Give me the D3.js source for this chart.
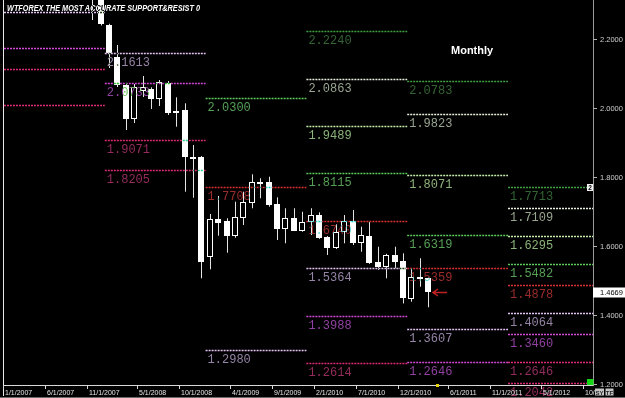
<!DOCTYPE html>
<html>
<head>
<meta charset="utf-8">
<script src="https://cdn.jsdelivr.net/npm/d3@7"></script>
<style>
  html, body { margin: 0; padding: 0; background: #000; }
  svg { display: block; }
  .blend { mix-blend-mode: difference; }
</style>
</head>
<body>
<svg id="chart" width="625" height="398"></svg>
<script>
// monthly candles
const candleMonths = [
  "2007-11", "2007-12",
  "2008-01", "2008-02", "2008-03", "2008-04", "2008-05", "2008-06",
  "2008-07", "2008-08", "2008-09", "2008-10", "2008-11", "2008-12",
  "2009-01", "2009-02", "2009-03", "2009-04", "2009-05", "2009-06",
  "2009-07", "2009-08", "2009-09", "2009-10", "2009-11", "2009-12",
  "2010-01", "2010-02", "2010-03", "2010-04", "2010-05", "2010-06",
  "2010-07", "2010-08", "2010-09", "2010-10", "2010-11", "2010-12",
  "2011-01", "2011-02", "2011-03"
];
const opens = [
  2.390, 2.330, 2.2415, 2.1487, 2.0675, 1.968, 2.051, 2.055, 2.0269, 2.0742,
  1.9854, 1.995, 1.8578, 1.8578, 1.5678, 1.678, 1.673, 1.6304, 1.6809, 1.7244,
  1.7853, 1.7853, 1.7215, 1.6498, 1.6826, 1.6449, 1.6693, 1.6905, 1.6275, 1.594,
  1.6403, 1.672, 1.6084, 1.6304, 1.555, 1.5405, 1.5744, 1.558, 1.4468, 1.5098,
  1.5069
];
const highs = [
  2.410, 2.345, 2.245, 2.1835, 2.073, 2.0704, 2.0936, 2.0608, 2.082, 2.079,
  2.0318, 2.0144, 1.8935, 1.8616, 1.6934, 1.7456, 1.6809, 1.729, 1.758, 1.8085,
  1.7969, 1.8015, 1.7418, 1.710, 1.710, 1.700, 1.710, 1.6983, 1.6295, 1.6635,
  1.6905, 1.705, 1.6565, 1.671, 1.5985, 1.578, 1.5985, 1.5794, 1.5359, 1.565,
  1.509
];
const lows = [
  2.256, 2.240, 2.1168, 2.0617, 1.937, 1.9573, 2.0327, 1.998, 2.0066, 1.9805,
  1.9465, 1.758, 1.7406, 1.5069, 1.533, 1.6304, 1.5811, 1.6246, 1.6614, 1.710,
  1.739, 1.7145, 1.618, 1.6084, 1.644, 1.642, 1.6324, 1.621, 1.5745, 1.592,
  1.6084, 1.6035, 1.584, 1.5484, 1.531, 1.5069, 1.536, 1.434, 1.439, 1.4825,
  1.4228
];
const closes = [
  2.330, 2.2435, 2.1603, 2.0675, 1.968, 2.0608, 2.0608, 2.0269, 2.077, 1.9854,
  1.993, 1.8595, 1.8537, 1.5533, 1.678, 1.668, 1.6304, 1.6838, 1.7273, 1.7853,
  1.7795, 1.7195, 1.6498, 1.6809, 1.6449, 1.671, 1.6905, 1.6229, 1.594, 1.642,
  1.672, 1.6084, 1.6324, 1.5504, 1.5405, 1.5744, 1.555, 1.4489, 1.5098, 1.5049,
  1.4669
];

// yearly support / resistance levels, one slot per level type
const levelTypes = ["R4", "R3", "R2", "R1", "P", "S1", "S2", "S3", "S4"];
const levelYears = [2007, 2008, 2009, 2010, 2011, 2012];
const levels2007 = [null, null, null, null, null, 2.2790, 2.1748, 2.1139, 2.0095];
const levels2008 = [null, null, null, null, 2.3400, 2.1613, 2.0733, 1.9071, 1.8205];
const levels2009 = [null, null, null, 2.0300, 1.7708, 1.2980, null, null, null];
const levels2010 = [2.2240, 2.0863, 1.9489, 1.8115, 1.6740, 1.5364, 1.3988, 1.2614, null];
const levels2011 = [2.0783, 1.9823, 1.8071, 1.6319, 1.5359, 1.3607, 1.2646, null, null];
const levels2012 = [1.7713, 1.7109, 1.6295, 1.5482, 1.4878, 1.4064, 1.3460, 1.2646, 1.2042];

const yTicks = [2.2, 2.0, 1.8, 1.6, 1.4, 1.2];
const tickLabels = [
  "1/1/2007", "6/1/2007", "11/1/2007", "5/1/2008", "10/1/2008", "4/1/2009", "9/1/2009",
  "2/1/2010", "7/1/2010", "12/1/2010", "6/1/2011", "11/1/2011", "5/1/2012", "10/1/2012"
];
const lastPrice = 1.4669;

const lineColor = {
  R4: "#3fa03f", R3: "#e6f0dc", R2: "#c4eeaa", R1: "#5ccc5c", P: "#d83030",
  S1: "#e4c2f4", S2: "#d448d8", S3: "#dc2a74", S4: "#dc2a74"
};
const textColor = {
  R4: "#346434", R3: "#98a690", R2: "#8cb47a", R1: "#56a056", P: "#9a2c2c",
  S1: "#9684a6", S2: "#9040a0", S3: "#942c5c", S4: "#942c5c"
};

const svg = d3.select("#chart");
const fmtMonth = d3.timeFormat("%Y-%m");
const parseTick = d3.timeParse("%m/%d/%Y");

const allMonths = d3.timeMonth.range(new Date(2007, 0, 1), new Date(2012, 10, 1)).map(fmtMonth);

const x = d3.scaleBand().domain(allMonths).range([4, 592]).padding(0);
const y = d3.scaleLinear().domain([1.1975, 2.314]).range([385, 0]);
const bw = x.bandwidth();

svg.append("rect").attr("width", 625).attr("height", 398).attr("fill", "#000");

const defs = svg.append("defs");
defs.append("clipPath").attr("id", "plot")
  .append("rect").attr("x", 3).attr("y", 0).attr("width", 590).attr("height", 385);
defs.append("clipPath").attr("id", "dates")
  .append("rect").attr("x", 0).attr("y", 386).attr("width", 595).attr("height", 12);

// candles
const data = candleMonths.map((m, i) => ({ m, o: opens[i], h: highs[i], l: lows[i], c: closes[i] }));
const gCandles = svg.append("g").attr("clip-path", "url(#plot)");

data.forEach(d => {
  const px = Math.round(x(d.m) + bw / 2);
  gCandles.append("line")
    .attr("x1", px + 0.5).attr("x2", px + 0.5)
    .attr("y1", y(d.h)).attr("y2", y(d.l))
    .attr("stroke", "#e4e4e4").attr("stroke-width", 1);

  const top = Math.round(y(Math.max(d.o, d.c)));
  const bot = Math.round(y(Math.min(d.o, d.c)));
  if (d.c > d.o) {
    gCandles.append("rect")
      .attr("x", px - 2.5).attr("y", top + 0.5)
      .attr("width", 5).attr("height", Math.max(1, bot - top - 1))
      .attr("fill", "#000").attr("stroke", "#fff").attr("stroke-width", 1);
  } else {
    gCandles.append("rect")
      .attr("x", px - 3).attr("y", top)
      .attr("width", 6).attr("height", Math.max(2, bot - top))
      .attr("fill", "#fff");
  }
});

// level lines and labels, XOR-like over the candles
const gLevels = svg.append("g").attr("class", "blend");
const allLevels = [levels2007, levels2008, levels2009, levels2010, levels2011, levels2012];

allLevels.forEach((vals, c) => {
  const year = levelYears[c];
  const x0 = x(`${year}-01`);
  const x1 = c < levelYears.length - 1 ? x(`${levelYears[c + 1]}-01`) : 593;
  vals.forEach((v, k) => {
    if (v == null) return;
    const t = levelTypes[k];
    const ly = Math.round(y(v)) + 0.5;
    gLevels.append("line")
      .attr("x1", x0).attr("x2", x1)
      .attr("y1", ly).attr("y2", ly)
      .attr("stroke", lineColor[t])
      .attr("stroke-width", 1.5)
      .attr("stroke-dasharray", "2,1");
    // the 2007 labels sit off the left edge; the top 2008 one is mostly off the top
    if (c > 0 && y(v) > 0) {
      gLevels.append("text")
        .attr("x", x0 + 2)
        .attr("y", ly + 12)
        .attr("font-family", "Liberation Mono, DejaVu Sans Mono, monospace")
        .attr("font-size", "12px")
        .attr("fill", textColor[t])
        .text(v.toFixed(4));
    }
  });
});

// title
svg.append("text")
  .attr("class", "blend")
  .attr("x", 7).attr("y", 10.5)
  .attr("font-family", "Liberation Sans, Arial, sans-serif")
  .attr("font-size", "9.5px")
  .attr("font-weight", "bold")
  .attr("font-style", "italic")
  .attr("fill", "#fff")
  .attr("textLength", 193)
  .attr("lengthAdjust", "spacingAndGlyphs")
  .text("WTFOREX THE MOST ACCURATE SUPPORT&RESIST 0");

svg.append("text")
  .attr("x", 451).attr("y", 53.5)
  .attr("font-family", "Liberation Sans, Arial, sans-serif")
  .attr("font-size", "11px")
  .attr("font-weight", "bold")
  .attr("fill", "#fff")
  .text("Monthly");

// arrow at the last close
const last = data[data.length - 1];
const ax = Math.round(x(last.m) + bw / 2) + 5;
const ay = Math.round(y(last.c)) + 0.5;
svg.append("path")
  .attr("d", `M${ax + 14},${ay}H${ax}M${ax + 5},${ay - 3.5}L${ax},${ay}L${ax + 5},${ay + 3.5}`)
  .attr("stroke", "#c42020").attr("stroke-width", 1.5).attr("fill", "none");

// frame lines
svg.append("line").attr("x1", 3.5).attr("x2", 3.5).attr("y1", 0).attr("y2", 396)
  .attr("stroke", "#e8e8e8");
svg.append("line").attr("x1", 3).attr("x2", 593).attr("y1", 385.5).attr("y2", 385.5)
  .attr("stroke", "#d8d8d8");
svg.append("line").attr("x1", 593.5).attr("x2", 593.5).attr("y1", 0).attr("y2", 386)
  .attr("stroke", "#9a9a9a");
svg.append("line").attr("x1", 0).attr("x2", 625).attr("y1", 397.5).attr("y2", 397.5)
  .attr("stroke", "#6a6a6a");

// right price axis
const gy = svg.append("g");
yTicks.forEach(t => {
  const ty = Math.round(y(t)) + 0.5;
  gy.append("line").attr("x1", 593).attr("x2", 597).attr("y1", ty).attr("y2", ty)
    .attr("stroke", "#b0b0b0");
  gy.append("text").attr("x", 600).attr("y", ty).attr("dy", "0.35em")
    .attr("font-family", "Liberation Sans, Arial, sans-serif")
    .attr("font-size", "7.5px").attr("fill", "#cfcfcf")
    .text(d3.format(".4f")(t));
});

// bottom date axis (last label runs under the buttons, so it is clipped there)
const gx = svg.append("g");
const gxText = svg.append("g").attr("clip-path", "url(#dates)");
tickLabels.forEach(lbl => {
  const tx = Math.round(x(fmtMonth(parseTick(lbl)))) - 0.5;
  gx.append("line").attr("x1", tx).attr("x2", tx).attr("y1", 385).attr("y2", 389)
    .attr("stroke", "#d8d8d8");
  gxText.append("text").attr("x", tx + 1.5).attr("y", 395)
    .attr("font-family", "Liberation Sans, Arial, sans-serif")
    .attr("font-size", "7px").attr("fill", "#e4e4e4")
    .text(lbl);
});

// current bar marker on the axis
const nextMonth = fmtMonth(d3.timeMonth.offset(new Date(2011, 2, 1), 1));
svg.append("rect").attr("x", Math.round(x(nextMonth) + bw / 2) - 1).attr("y", 384)
  .attr("width", 3).attr("height", 3).attr("fill", "#e8d400");

// last price box
const py = Math.round(y(lastPrice));
svg.append("rect").attr("x", 593).attr("y", py - 4.5).attr("width", 32).attr("height", 10)
  .attr("fill", "#fff");
svg.append("text").attr("x", 600).attr("y", py + 0.5).attr("dy", "0.35em")
  .attr("font-family", "Liberation Sans, Arial, sans-serif")
  .attr("font-size", "7.5px").attr("fill", "#000")
  .text(lastPrice.toFixed(4));

// small markers at the right edge
const my = Math.round(y(levels2012[0]));
svg.append("rect").attr("x", 587).attr("y", my - 3).attr("width", 6).attr("height", 7)
  .attr("fill", "#f4f4f4");
svg.append("text").attr("x", 590).attr("y", my + 3).attr("text-anchor", "middle")
  .attr("font-family", "Liberation Sans, Arial, sans-serif")
  .attr("font-size", "6.5px").attr("font-weight", "bold").attr("fill", "#000")
  .text("2");
svg.append("rect").attr("x", 587).attr("y", 379).attr("width", 6.5).attr("height", 6)
  .attr("fill", "#14d414");

// SY / TF buttons
[["SY", 595, 9], ["TF", 605.5, 8]].forEach(([t, bx, w]) => {
  svg.append("rect").attr("x", bx).attr("y", 388.5).attr("width", w).attr("height", 7)
    .attr("fill", "#c4c4c4");
  svg.append("text").attr("x", bx + w / 2).attr("y", 394.5).attr("text-anchor", "middle")
    .attr("font-family", "Liberation Sans, Arial, sans-serif")
    .attr("font-size", "6px").attr("font-weight", "bold").attr("fill", "#222")
    .text(t);
});
</script>
</body>
</html>
